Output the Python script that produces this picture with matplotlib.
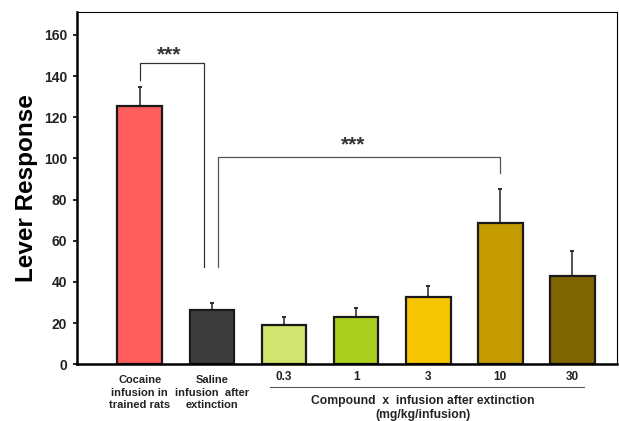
import numpy as np
import matplotlib.pyplot as plt

plt.rcParams['font.family'] = ['Liberation Sans', 'DejaVu Sans']
plt.rcParams['font.weight'] = 'bold'

# values
groups = ["Cocaine\ninfusion in\ntrained rats", "Saline\ninfusion  after\nextinction",
          "0.3", "1", "3", "10", "30"]
means = [125.5, 26.3, 19.0, 22.7, 32.6, 68.4, 43.0]
sems = [9.0, 3.2, 3.7, 4.4, 5.5, 16.7, 12.0]
colors = ["#FF5C5C", "#3D3D3D", "#CFE56E", "#ABCF1E", "#F7C500", "#C49C00", "#806600"]
yticks = [0, 20, 40, 60, 80, 100, 120, 140, 160]

x = np.arange(len(means))

fig = plt.figure(figsize=(6.19, 4.21), dpi=100)
ax = fig.add_axes([0.124, 0.135, 0.873, 0.836])

ax.bar(x, means, width=0.62, color=colors, edgecolor="#1a1a1a", linewidth=1.6, zorder=2)
ax.errorbar(x, means, yerr=[np.zeros(len(means)), sems], fmt="none",
            ecolor="#333333", elinewidth=1.2, capsize=1.5, capthick=1.5, zorder=1)

ax.set_xlim(-0.875, 6.62)
ax.set_ylim(0, 171)
ax.set_yticks(yticks)
ax.set_yticklabels([str(t) for t in yticks], fontsize=10, fontweight="bold", color="#222222")
ax.set_xticks([])
ax.tick_params(axis="y", direction="out", length=3, width=1.2, pad=4)

for side in ["left", "bottom"]:
    ax.spines[side].set_linewidth(1.8)
for side in ["top", "right"]:
    ax.spines[side].set_linewidth(0.8)

ax.set_ylabel("Lever Response", fontsize=17.5, fontweight="bold", labelpad=4)

# significance brackets
ax.plot([0, 0, 0.89, 0.89], [138, 146.5, 146.5, 47.3], color="#333333", lw=0.9, clip_on=False)
ax.text(0.40, 147.5, "***", ha="center", va="baseline", fontsize=15, fontweight="bold", color="#333333")
ax.plot([1.09, 1.09, 5.0, 5.0], [47.3, 100.8, 100.8, 92.7], color="#555555", lw=0.9, clip_on=False)
ax.text(2.96, 103.8, "***", ha="center", va="baseline", fontsize=15, fontweight="bold", color="#333333")

# category labels below the axis
for i, g in enumerate(groups):
    if i < 2:
        ax.text(x[i], -5.5, g, ha="center", va="top", fontsize=8, fontweight="bold",
                linespacing=1.3, color="#222222", clip_on=False)
    else:
        ax.text(x[i], -3.5, g, ha="center", va="top", fontsize=8.5, fontweight="bold",
                color="#222222", clip_on=False)

ax.plot([1.80, 6.16], [-11, -11], color="#555555", lw=0.8, clip_on=False)
ax.text(3.93, -15, "Compound  x  infusion after extinction\n(mg/kg/infusion)", ha="center", va="top",
        fontsize=8.7, fontweight="bold", linespacing=1.25, color="#222222", clip_on=False)

fig.savefig("out.png", dpi=100)
